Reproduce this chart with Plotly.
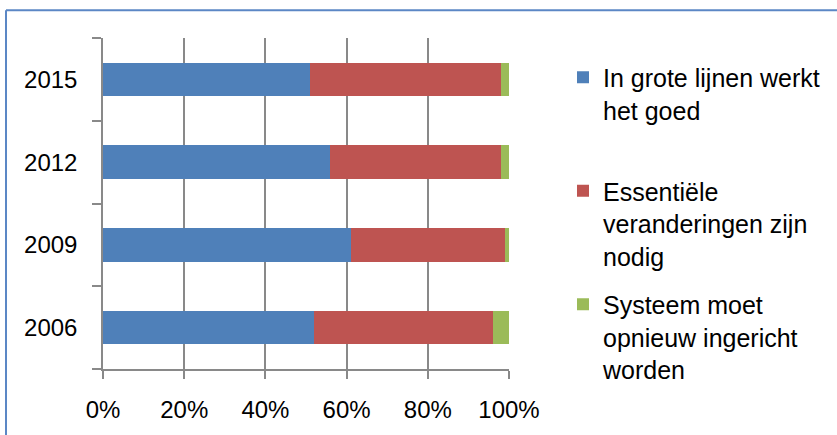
import plotly.graph_objects as go

# Survey answers per year, share of respondents (%)
years = ["2006", "2009", "2012", "2015"]
werkt_goed = [52, 61, 56, 51]
veranderingen = [44, 38, 42, 47]
opnieuw = [4, 1, 2, 2]

series_names = [
    "In grote lijnen werkt<br>het goed<br> ",
    "Essentiële<br>veranderingen zijn<br>nodig",
    "Systeem moet<br>opnieuw ingericht<br>worden",
]
series_colors = ["#4f80b9", "#be5451", "#9bbb59"]
x_ticks = [0, 20, 40, 60, 80, 100]
x_labels = ["0%", "20%", "40%", "60%", "80%", "100%"]

FONT = "Liberation Sans"
AXIS_GRAY = "#898989"
FRAME_BLUE = "#5b87c5"

fig = go.Figure()
for name, vals, col in zip(series_names, [werkt_goed, veranderingen, opnieuw], series_colors):
    fig.add_trace(go.Bar(
        y=years, x=vals, name=name, orientation="h",
        marker=dict(color=col, line=dict(width=0)),
        legendgroup=name,
    ))

# outer frame of the chart: only its top and left edges fall inside the page
fig.add_shape(type="line", xref="paper", yref="paper",
              x0=-0.2389, x1=1.9, y0=1.0836, y1=1.0836,
              line=dict(color=FRAME_BLUE, width=2), layer="above")
fig.add_shape(type="line", xref="paper", yref="paper",
              x0=-0.2389, x1=-0.2389, y0=-0.3, y1=1.0836,
              line=dict(color=FRAME_BLUE, width=2), layer="above")

fig.update_layout(
    width=837, height=435,
    margin=dict(l=103, r=328, t=38, b=62, pad=0),
    barmode="stack", bargap=0.595,
    paper_bgcolor="white", plot_bgcolor="white",
    font=dict(family=FONT, size=24, color="black"),
    showlegend=True,
    legend=dict(
        x=1.133, y=0.95, xanchor="left", yanchor="top",
        traceorder="grouped", valign="top",
        tracegroupgap=13, itemclick=False, maxheight=435,
        font=dict(family=FONT, size=25, color="black"),
        bgcolor="rgba(0,0,0,0)",
    ),
    xaxis=dict(
        range=[0, 100], tickvals=x_ticks, ticktext=x_labels,
        showgrid=True, gridcolor=AXIS_GRAY, gridwidth=1.5,
        showline=True, linecolor=AXIS_GRAY, linewidth=1.5,
        ticks="outside", ticklen=8, tickcolor=AXIS_GRAY, tickwidth=1.5,
        ticklabelstandoff=10, zeroline=False, fixedrange=True,
    ),
    yaxis=dict(
        categoryorder="array", categoryarray=years,
        showgrid=False, showline=True, linecolor=AXIS_GRAY, linewidth=1.5,
        ticks="outside", tickson="boundaries", ticklen=9,
        tickcolor=AXIS_GRAY, tickwidth=1.5,
        ticklabelstandoff=19, fixedrange=True,
    ),
)

fig.write_html("out.html")
